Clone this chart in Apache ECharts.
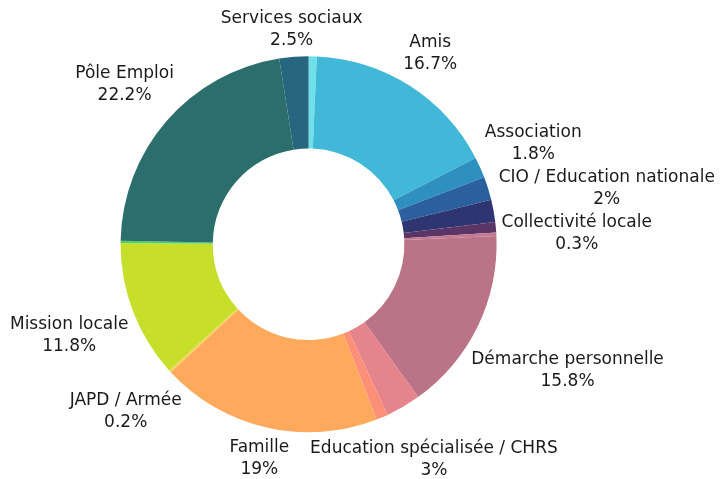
<!DOCTYPE html>
<html>
<head>
<meta charset="utf-8">
<script src="https://cdn.jsdelivr.net/npm/echarts@6/dist/echarts.min.js"></script>
<style>
html,body{margin:0;padding:0;background:#fff;}
#chart{width:721px;height:479px;}
</style>
</head>
<body>
<div id="chart"></div>
<script>
// Categories (clockwise from 12 o'clock); slices with showLabel=false have no visible label in the reference
const categories = ['Autre A', 'Amis', 'Association', 'CIO / Education nationale', 'Autre B', 'Autre C', 'Collectivité locale', 'Démarche personnelle', 'Education spécialisée / CHRS', 'Autre D', 'Famille', 'JAPD / Armée', 'Mission locale', 'Autre E', 'Pôle Emploi', 'Services sociaux'];
const values = [0.7, 16.7, 1.8, 2, 1.9, 0.9, 0.3, 15.8, 3, 1.0, 19, 0.2, 11.8, 0.2, 22.2, 2.5];
const showLabel = [false, true, true, true, false, false, true, true, true, false, true, true, true, false, true, true];
const colors = ['#6ee0ea', '#42b8d9', '#2e8fc1', '#2a609e', '#2f3570', '#5b3566', '#c27c92', '#bb7388', '#e5848a', '#fc8f78', '#ffa95c', '#f5d25a', '#c7df2b', '#4ccf6d', '#2b6e6c', '#26677f'];

const CENTER = [0.428, 0.51];
const OUTER = 0.785, INNER = 0.40;
const LABEL_GAP = 5;

const data = categories.map((name, i) => ({
  name: name,
  value: values[i],
  itemStyle: { color: colors[i] },
  label: { show: showLabel[i] }
}));

const chart = echarts.init(document.getElementById('chart'), null, { renderer: 'canvas' });

const total = values.reduce((a, b) => a + b, 0);
const firstLabeled = showLabel.indexOf(true);
const placed = [];

function boxAt(theta, R, w, h) {
  const sx = Math.sin(theta), sy = -Math.cos(theta);
  let lo = R, hi = R + 600;
  for (let k = 0; k < 50; k++) {
    const t = (lo + hi) / 2;
    const X = sx * t, Y = sy * t;
    const nx = Math.max(Math.abs(X) - w, 0), ny = Math.max(Math.abs(Y) - h, 0);
    if (Math.hypot(nx, ny) < R + LABEL_GAP) lo = t; else hi = t;
  }
  return { x: sx * hi, y: sy * hi, w: w, h: h };
}
function overlaps(b) {
  return placed.some(o => Math.abs(o.x - b.x) < o.w + b.w && Math.abs(o.y - b.y) < o.h + b.h);
}

chart.setOption({
  animation: false,
  series: [{
    type: 'pie',
    radius: [(INNER * 100) + '%', (OUTER * 100) + '%'],
    center: [(CENTER[0] * 100) + '%', (CENTER[1] * 100) + '%'],
    startAngle: 90,
    clockwise: true,
    data: data,
    avoidLabelOverlap: false,
    label: {
      position: 'outside',
      formatter: '{b}\n{c}%',
      fontFamily: 'DejaVu Sans',
      fontSize: 17,
      lineHeight: 22,
      color: '#1a1a1a'
    },
    labelLine: { show: false, length: 10, length2: 0 },
    labelLayout: function (p) {
      const i = p.dataIndex;
      if (i === firstLabeled) placed.length = 0;
      const W = chart.getWidth(), H = chart.getHeight();
      const cx = W * CENTER[0], cy = H * CENTER[1];
      const R = Math.min(W, H) / 2 * OUTER;
      let before = 0;
      for (let k = 0; k < i; k++) before += values[k];
      let theta = (before + values[i] / 2) / total * Math.PI * 2;
      const w = p.labelRect.width / 2, h = p.labelRect.height / 2;
      let b = boxAt(theta, R, w, h);
      let guard = 0;
      while (overlaps(b) && guard < 600) {
        theta += Math.PI / 720;
        b = boxAt(theta, R, w, h);
        guard++;
      }
      placed.push(b);
      return { x: cx + b.x, y: cy + b.y, align: 'center', verticalAlign: 'middle' };
    },
    itemStyle: { borderWidth: 0 },
    emphasis: { disabled: true }
  }]
});
</script>
</body>
</html>
